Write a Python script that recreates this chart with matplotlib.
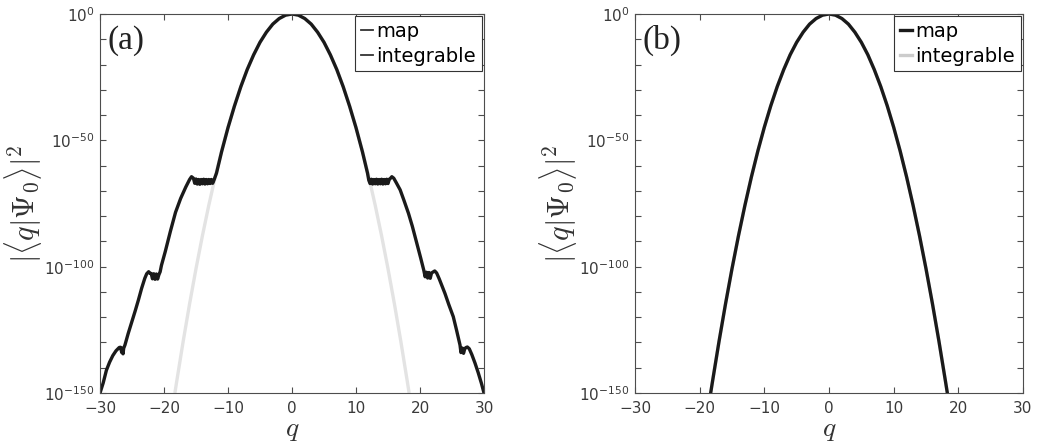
"""Wavefunction tails |<q|Psi_0>|^2: kicked map vs integrable approximation."""
import matplotlib
matplotlib.use("Agg")
import matplotlib.pyplot as plt
from matplotlib.lines import Line2D
from matplotlib.ticker import FixedLocator, NullFormatter, LogFormatterSciNotation
import numpy as np

# integrable (Gaussian) curve, log10 values
q_int = [-18.3, -18, -17, -16, -15, -14, -13, -12, -11, -10, -9, -8, -7, -6, -5, -4,
         -3, -2, -1, 0, 1, 2, 3, 4, 5, 6, 7, 8, 9, 10, 11, 12, 13, 14, 15, 16, 17, 18, 18.3]
log_int = [-150.0, -145.2, -129.5, -114.7, -100.8, -87.8, -75.7, -64.5, -54.2, -44.8,
           -36.3, -28.7, -22.0, -16.1, -11.2, -7.2, -4.0, -1.8, -0.45, 0.0,
           -0.45, -1.8, -4.0, -7.2, -11.2, -16.1, -22.0, -28.7, -36.3, -44.8,
           -54.2, -64.5, -75.7, -87.8, -100.8, -114.7, -129.5, -145.2, -150.0]

# map curve, panel (a): Gaussian core plus plateaus/shoulders in the tails
q_map = [-30.0, -29.5, -29.0, -28.5, -28.0, -27.5, -27.0, -26.8, -26.6, -26.5, -26.4,
         -26.3, -26.1, -25.6, -25.1, -24.5, -24.0, -23.5, -23.0, -22.7, -22.4, -22.2,
         -22.0, -21.8, -21.6, -21.4, -21.2, -21.0, -20.8, -20.6, -20.4, -19.8, -19.0,
         -18.2, -17.4, -16.6, -16.0, -15.7, -15.4, -15.2, -15.0, -14.8, -14.6, -14.4,
         -14.2, -14.0, -13.8, -13.6, -13.4, -13.2, -13.0, -12.8, -12.6, -12.4, -12.2,
         -11.8, -11, -10, -9, -8, -7, -6, -5, -4, -3, -2, -1, 0,
         1, 2, 3, 4, 5, 6, 7, 8, 9, 10, 11, 11.8,
         12.0, 12.2, 12.4, 12.6, 12.8, 13.0, 13.2, 13.4, 13.6, 13.8, 14.0, 14.2, 14.4,
         14.6, 14.8, 15.0, 15.2, 15.4, 15.6, 15.9, 16.3, 16.9, 17.5, 18.2, 18.8, 19.5,
         20.1, 20.6, 20.8, 21.0, 21.2, 21.4, 21.6, 21.8, 22.0, 22.3, 22.6, 23.0, 23.5,
         23.9, 24.5, 25.2, 25.7, 26.25, 26.4, 26.6, 26.8, 27.0, 27.2, 27.4, 27.7, 28.1,
         28.6, 29.1, 29.6, 30.0]
log_map = [-150.0, -146.0, -141.0, -137.8, -135.2, -133.3, -132.0, -131.9, -134.0, -132.3,
           -134.5, -132.3, -131.0, -126.5, -122.4, -117.5, -113.2, -108.6, -104.6, -102.8,
           -102.0, -102.6, -102.7, -104.8, -102.8, -105.0, -102.9, -104.9, -103.2, -102.0,
           -99.5, -94.0, -86.0, -78.5, -73.0, -68.5, -65.5, -64.4, -65.0, -67.0, -65.3,
           -67.3, -65.5, -67.4, -65.5, -67.2, -65.4, -67.3, -65.5, -67.2, -65.5, -67.1,
           -65.5, -67.0, -65.8,
           -63.0, -54.5, -45.0, -36.5, -28.8, -22.0, -16.2, -11.2, -7.2, -4.0, -1.8, -0.45, 0.0,
           -0.45, -1.8, -4.0, -7.2, -11.2, -16.2, -22.0, -28.8, -36.5, -45.0, -54.5, -63.0,
           -65.8, -67.1, -65.4, -67.3, -65.5, -67.2, -65.4, -67.3, -65.5, -67.2, -65.4,
           -67.3, -65.5, -67.2, -65.4, -67.1, -65.4, -65.0, -64.4, -65.0, -66.8, -69.6,
           -73.8, -78.9, -84.0, -90.7, -96.5, -101.5, -104.0, -102.2, -104.5, -102.3,
           -104.6, -102.5, -102.2, -101.7, -102.5, -104.8, -108.0, -110.6, -115.0, -119.8,
           -125.0, -131.0, -134.0, -132.2, -134.3, -132.4, -132.0, -131.8, -132.5, -134.8,
           -138.2, -142.0, -146.2, -150.0]

panel_labels = ["(a)", "(b)"]
series_labels = ["map", "integrable"]
x_ticks = [-30, -20, -10, 0, 10, 20, 30]
y_major_exp = [-150, -100, -50, 0]

BLACK = "#1a1a1a"
GRAY = "#e3e3e3"
AXC = "#4d4d4d"

plt.rcParams["mathtext.fontset"] = "cm"
plt.rcParams["font.family"] = "DejaVu Sans"

fig = plt.figure(figsize=(10.37, 4.46), dpi=100)
ax_a = fig.add_axes([100 / 1037, 1 - 393 / 446, 384 / 1037, 379 / 446])
ax_b = fig.add_axes([635 / 1037, 1 - 393 / 446, 388 / 1037, 379 / 446])

# panel (a)
ax_a.plot(q_int, 10.0 ** np.array(log_int), color=GRAY, lw=2.4, solid_capstyle="butt")
ax_a.plot(q_map, 10.0 ** np.array(log_map), color=BLACK, lw=2.4)
# panel (b): map and integrable coincide
ax_b.plot(q_int, 10.0 ** np.array(log_int), color=GRAY, lw=2.4)
ax_b.plot(q_int, 10.0 ** np.array(log_int), color=BLACK, lw=2.4)

legend_handles = {
    "(a)": [Line2D([], [], color="#333333", lw=1.3), Line2D([], [], color="#333333", lw=1.3)],
    "(b)": [Line2D([], [], color=BLACK, lw=2.4), Line2D([], [], color="#cccccc", lw=2.4)],
}

for ax, lab in zip([ax_a, ax_b], panel_labels):
    ax.set_yscale("log")
    ax.set_xlim(-30, 30)
    ax.set_ylim(1e-150, 1e0)
    ax.set_xticks(x_ticks)
    ax.yaxis.set_major_locator(FixedLocator([10.0 ** e for e in y_major_exp]))
    ax.yaxis.set_major_formatter(LogFormatterSciNotation())
    ax.yaxis.set_minor_locator(FixedLocator([10.0 ** e for e in range(-150, 1, 10)]))
    ax.yaxis.set_minor_formatter(NullFormatter())
    ax.tick_params(which="both", direction="in", top=True, right=True, color=AXC,
                   labelcolor="#3a3a3a", labelsize=11, length=4, width=0.8)
    ax.tick_params(axis="x", pad=6)
    ax.tick_params(axis="y", pad=4)
    for sp in ax.spines.values():
        sp.set_color(AXC)
        sp.set_linewidth(0.8)

    ax.set_xlabel(r"$q$", fontsize=20, color="#333333", va="center")
    ax.xaxis.set_label_coords(0.5, -0.096)
    ax.set_ylabel(r"$|\langle q|\Psi_0\rangle|^2$", fontsize=22, color="#333333")
    ax.yaxis.set_label_coords(-0.145, 0.5)

    ax.text(0.02, 0.93, lab, transform=ax.transAxes, fontsize=24,
            family="Liberation Serif", va="center", ha="left", color="#222222")

    leg = ax.legend(legend_handles[lab], series_labels, loc="upper right",
                    fontsize=14, handlelength=0.6, handletextpad=0.2,
                    borderpad=0.3, labelspacing=0.3, borderaxespad=0.1,
                    frameon=True, fancybox=False, framealpha=1)
    leg.get_frame().set_edgecolor("#333333")
    leg.get_frame().set_linewidth(0.8)

fig.savefig("out.png", dpi=100)
